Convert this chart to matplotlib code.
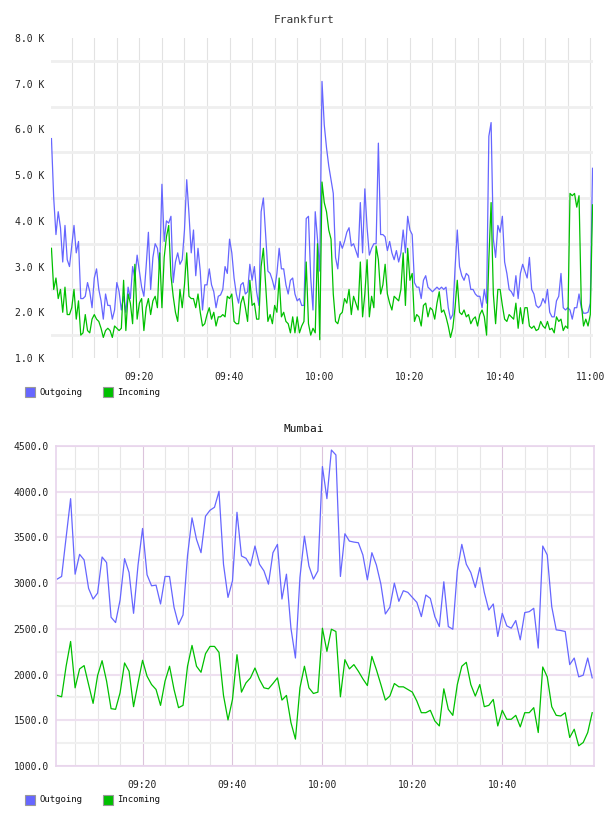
import numpy as np
import matplotlib
matplotlib.use("Agg")
import matplotlib.pyplot as plt
from matplotlib.patches import Rectangle

# Frankfurt, one sample every 30 s from 09:00:30 to 11:00:30, values in K
fra_out = [5.8, 4.5, 3.7, 4.2, 3.85, 3.1, 3.9, 3.15, 3.0, 3.45, 3.9, 3.3, 3.55, 2.3, 2.3, 2.35, 2.65, 2.45, 2.1, 2.75,
           2.95, 2.5, 2.25, 1.85, 2.4, 2.15, 2.15, 1.85, 2.05, 2.65, 2.45, 2.05, 2.35, 2.0, 2.55, 2.3, 3.0, 2.75, 3.25, 2.9, 2.55,
           2.35, 3.0, 3.75, 2.5, 3.2, 3.5, 3.4, 2.95, 4.8, 3.55, 4.0, 3.95, 4.1, 2.65, 3.1, 3.3, 3.05, 3.15, 3.8, 4.9,
           4.15, 3.3, 3.8, 2.8, 3.4, 2.9, 2.05, 2.6, 2.6, 2.95, 2.6, 2.45, 2.1, 2.35, 2.38, 2.5, 3.0, 2.85, 3.6, 3.3,
           2.75, 2.4, 2.2, 2.6, 2.65, 2.4, 2.45, 3.05, 2.7, 3.0, 2.45, 2.15, 4.2, 4.5, 3.7, 2.9, 2.85, 2.7, 2.5, 2.85,
           3.4, 2.95, 2.95, 2.6, 2.4, 2.7, 2.75, 2.4, 2.25, 2.3, 2.15, 2.15, 4.05, 4.1, 2.75, 2.05, 4.2, 3.6, 2.9, 7.05,
           6.1, 5.6, 5.2, 4.9, 4.6, 3.2, 2.95, 3.55, 3.4, 3.55, 3.75, 3.85, 3.45, 3.5, 3.35, 3.2, 4.4, 3.3, 4.7, 3.85,
           3.25, 3.4, 3.5, 3.5, 5.7, 3.7, 3.7, 3.65, 3.35, 3.55, 3.3, 3.15, 3.35, 3.1, 3.3, 3.8, 3.3, 4.1, 3.8, 3.7,
           2.65, 2.55, 2.55, 2.3, 2.7, 2.8, 2.55, 2.5, 2.45, 2.5, 2.55, 2.5, 2.55, 2.5, 2.55, 2.1, 1.85, 1.95, 2.95, 3.8,
           3.0, 2.8, 2.7, 2.85, 2.8, 2.5, 2.5, 2.4, 2.35, 2.35, 2.1, 2.5, 2.2, 5.85, 6.15, 3.6, 3.2, 3.9, 3.75, 4.1,
           3.1, 2.85, 2.5, 2.45, 2.35, 2.8, 2.3, 2.85, 3.05, 2.9, 2.75, 3.2, 2.5, 2.4, 2.15, 2.1, 2.15, 2.3, 2.2, 2.5,
           2.0, 1.9, 1.9, 2.25, 2.35, 2.85, 2.1, 2.05, 2.1, 2.05, 1.85, 2.1, 2.1, 2.4, 2.1, 1.98, 1.98, 2.0, 2.2, 5.15]
fra_in = [3.4, 2.5, 2.75, 2.3, 2.5, 2.0, 2.55, 1.95, 1.95, 2.1, 2.5, 1.85, 2.25, 1.5, 1.55, 1.95, 1.6, 1.55, 1.85, 1.95,
          1.85, 1.8, 1.65, 1.45, 1.6, 1.65, 1.6, 1.45, 1.7, 1.65, 1.6, 1.65, 2.7, 1.6, 2.4, 2.2, 1.75, 3.05, 1.85, 2.2, 2.3,
          1.6, 2.1, 2.3, 1.95, 2.25, 2.35, 2.1, 3.3, 2.1, 3.2, 3.65, 3.9, 2.8, 2.35, 2.0, 1.8, 2.5, 2.1, 2.6, 3.3,
          2.35, 2.3, 2.3, 2.1, 2.4, 2.0, 1.7, 1.75, 1.95, 2.1, 1.85, 2.0, 1.7, 1.9, 1.9, 1.95, 1.9, 2.35, 2.3, 2.4,
          1.8, 1.75, 1.75, 2.2, 2.35, 2.1, 1.8, 2.7, 2.15, 2.2, 1.85, 1.85, 3.0, 3.4, 2.6, 1.8, 1.95, 1.75, 2.15, 2.0,
          2.75, 1.9, 2.0, 1.8, 1.75, 1.55, 1.9, 1.55, 1.9, 1.55, 1.7, 1.8, 3.1, 1.75, 1.5, 1.65, 1.55, 3.5, 1.4, 4.85,
          4.4, 4.2, 3.8, 3.6, 2.4, 1.8, 1.75, 1.95, 2.0, 2.3, 2.2, 2.5, 1.95, 2.35, 2.2, 2.05, 3.1, 1.9, 2.4, 3.15,
          1.9, 2.35, 2.1, 3.45, 3.15, 2.4, 2.6, 3.05, 2.4, 2.2, 2.05, 2.35, 2.3, 2.25, 2.5, 3.3, 2.15, 3.4, 2.7, 2.85,
          1.8, 1.95, 1.9, 1.7, 2.15, 2.2, 1.9, 2.1, 2.05, 1.85, 2.2, 2.45, 2.0, 2.05, 1.9, 1.7, 1.45, 1.65, 2.1, 2.7,
          2.0, 1.95, 2.05, 1.9, 1.95, 1.75, 1.85, 1.9, 1.7, 1.95, 2.05, 1.9, 1.5, 3.15, 4.4, 2.4, 1.75, 2.5, 2.5, 2.15,
          1.85, 1.8, 1.95, 1.9, 1.85, 2.2, 1.65, 2.1, 1.75, 2.1, 2.1, 1.7, 1.65, 1.7, 1.6, 1.63, 1.8, 1.7, 1.65, 1.8,
          1.62, 1.65, 1.55, 1.9, 1.8, 1.85, 1.6, 1.7, 1.65, 4.6, 4.55, 4.6, 4.3, 4.55, 2.2, 1.7, 1.85, 1.7, 1.95, 4.35]

# Mumbai, one sample per minute from 09:01 to 11:00
mum_out = [3044, 3073, 3500, 3924, 3098, 3315, 3254, 2942, 2826, 2891, 3286, 3225, 2627, 2569, 2815, 3268, 3116, 2670, 3200, 3598,
           3091, 2971, 2978, 2772, 3073, 3073, 2736, 2547, 2652, 3300, 3714, 3478, 3333, 3732, 3797, 3830, 4004, 3207, 2844, 3025,
           3775, 3297, 3272, 3188, 3406, 3207, 3134, 2989, 3333, 3424, 2826, 3098, 2507, 2181, 3062, 3514, 3188, 3044, 3134, 4275,
           3924, 4456, 4402, 3073, 3540, 3460, 3449, 3442, 3308, 3036, 3333, 3199, 2989, 2663, 2736, 3000, 2801, 2917, 2899, 2844,
           2790, 2634, 2870, 2833, 2634, 2525, 3015, 2525, 2496, 3134, 3424, 3207, 3116, 2953, 3170, 2899, 2706, 2772, 2417, 2670,
           2533, 2507, 2591, 2380, 2678, 2688, 2725, 2290, 3406, 3308, 2743, 2489, 2482, 2471, 2109, 2181, 1975, 1993, 2181, 1964]
mum_in = [1772, 1757, 2091, 2362, 1855, 2062, 2098, 1891, 1685, 1989, 2152, 1928, 1627, 1620, 1801, 2127, 2036, 1649, 1909, 2156,
          1982, 1891, 1837, 1663, 1928, 2091, 1837, 1638, 1663, 2091, 2319, 2091, 2025, 2228, 2308, 2308, 2243, 1772, 1504, 1728,
          2217, 1808, 1909, 1964, 2072, 1946, 1855, 1844, 1902, 1964, 1721, 1772, 1475, 1294, 1855, 2091, 1855, 1793, 1808, 2507,
          2254, 2496, 2471, 1757, 2163, 2062, 2109, 2036, 1953, 1880, 2199, 2054, 1891, 1721, 1765, 1902, 1866, 1866, 1837, 1808,
          1710, 1583, 1583, 1609, 1493, 1438, 1844, 1620, 1554, 1891, 2091, 2134, 1891, 1765, 1891, 1649, 1663, 1728, 1438, 1609,
          1511, 1511, 1554, 1428, 1583, 1583, 1638, 1366, 2083, 1975, 1649, 1554, 1547, 1583, 1312, 1402, 1221, 1257, 1366, 1583]

fra_t = 0.5 + 0.5 * np.arange(len(fra_out))   # minutes after 09:00
mum_t = 1.0 + np.arange(len(mum_out))

tick_min = [20, 40, 60, 80, 100, 120]
tick_lab = ["09:20", "09:40", "10:00", "10:20", "10:40", "11:00"]

blue = "#6666ff"
green = "#00c000"
plt.rcParams["font.family"] = "DejaVu Sans Mono"

W, H = 608, 816
fig = plt.figure(figsize=(W / 100, H / 100), dpi=100)


def box(l, t, r, b):
    return [l / W, 1 - b / H, (r - l) / W, (b - t) / H]


def legend(y):
    for x, c, name in [(25, blue, "Outgoing"), (103, green, "Incoming")]:
        fig.patches.append(Rectangle((x / W, 1 - (y + 5) / H), 10 / W, 10 / H, transform=fig.transFigure,
                                     facecolor=c, edgecolor="#999999", lw=0.8))
        fig.text((x + 14) / W, 1 - y / H, name, fontsize=6.5, va="center", ha="left", color="#111111")


# ---- Frankfurt
ax = fig.add_axes(box(51, 38, 593, 358))
ax.plot(fra_t, fra_out, color=blue, lw=0.9)
ax.plot(fra_t, fra_in, color=green, lw=0.9)
ax.set_xlim(0.4, 120.6)
ax.set_ylim(1, 8)
ax.set_yticks(np.arange(1, 9))
ax.set_yticklabels([f"{v:.1f} K" for v in np.arange(1, 9)])
ax.set_yticks(np.arange(1.5, 8, 1.0), minor=True)
ax.set_xticks(tick_min)
ax.set_xticklabels(tick_lab)
ax.set_xticks(np.arange(5, 121, 5), minor=True)
ax.grid(axis="y", which="minor", color="#efefef", lw=2)
ax.grid(axis="x", which="both", color="#e2e2e2", lw=0.8)
ax.set_axisbelow(True)
for s in ax.spines.values():
    s.set_visible(False)
ax.tick_params(which="both", length=0, labelsize=7, colors="#222222")
ax.tick_params(axis="x", pad=10)
ax.tick_params(axis="y", pad=5)
fig.text(0.5, 1 - 20 / H, "Frankfurt", ha="center", va="center", fontsize=8, color="#333333")
legend(392)

# ---- Mumbai
ax2 = fig.add_axes(box(56, 446, 594, 766))
ax2.plot(mum_t, mum_out, color=blue, lw=0.9)
ax2.plot(mum_t, mum_in, color=green, lw=0.9)
ax2.set_xlim(0.75, 120.4)
ax2.set_ylim(1000, 4500)
ax2.set_yticks(np.arange(1000, 4501, 500))
ax2.set_yticklabels([f"{v:.1f}" for v in np.arange(1000, 4501, 500)])
ax2.set_yticks(np.arange(1250, 4500, 500), minor=True)
ax2.set_xticks(tick_min[:5])
ax2.set_xticklabels(tick_lab[:5])
ax2.set_xticks([m for m in range(5, 121, 5) if m % 20], minor=True)
ax2.grid(axis="y", which="major", color="#eee0f0", lw=1.5)
ax2.grid(axis="y", which="minor", color="#f0f0f0", lw=1.5)
ax2.grid(axis="x", which="major", color="#dcc4dc", lw=0.8)
ax2.grid(axis="x", which="minor", color="#e6e6e6", lw=0.8)
ax2.set_axisbelow(True)
for s in ax2.spines.values():
    s.set_color("#e8d4ec")
    s.set_linewidth(1.2)
ax2.tick_params(which="both", length=0, labelsize=7, colors="#222222")
ax2.tick_params(axis="x", pad=10)
ax2.tick_params(axis="y", pad=5)
fig.text(0.5, 1 - 429 / H, "Mumbai", ha="center", va="center", fontsize=8, color="#111111")
legend(800)

fig.savefig("out.png", dpi=100)
